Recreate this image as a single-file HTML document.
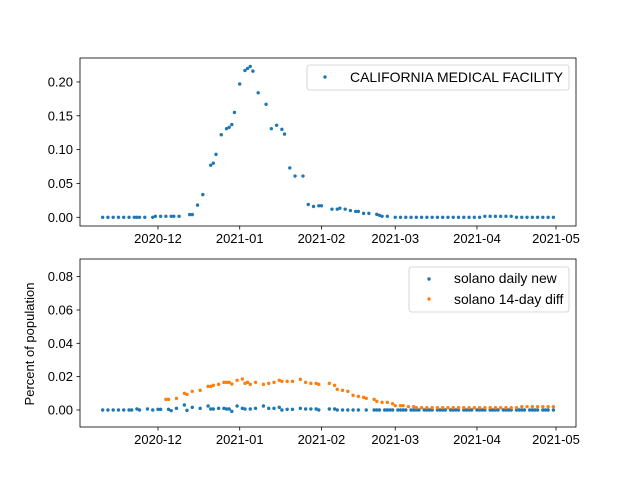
<!DOCTYPE html>
<html><head><meta charset="utf-8">
<style>
body{margin:0;background:#fff;}
svg{display:block;font-family:"Liberation Sans",Arial,sans-serif;}
</style></head>
<body>
<svg id="chart" width="640" height="480" xmlns="http://www.w3.org/2000/svg">
<rect width="640" height="480" fill="#fff"/>
</svg>
<script>
// Days are offsets from 2020-12-01
const xTickLabels = ["2020-12","2021-01","2021-02","2021-03","2021-04","2021-05"];
const xTickDays = [0,31,62,90,121,151];
const topTickLabels = ["0.00","0.05","0.10","0.15","0.20"];
const topTickValues = [0,0.05,0.10,0.15,0.20];
const botTickLabels = ["0.00","0.02","0.04","0.06","0.08"];
const botTickValues = [0,0.02,0.04,0.06,0.08];

const facilityDays = [-21,-19,-17,-15,-13,-11,-9,-8,-7,-5,-2,-1,1,3,5,6,8,12,13,15,17,20,21,22,24,26,27,28,29,31,33,34,35,36,38,41,43,45,47,48,50,52,55,57,59,61,62,66,68,69,71,73,75,76,78,80,83,84,85,87,90,92,94,96,98,100,102,104,106,108,110,112,114,116,118,120,122,124,126,128,130,132,134,136,138,140,142,144,146,148,150];
const facilityVals = [0,0,0,0,0,0,0,0,0,0,0,0.0015,0.0015,0.0015,0.0015,0.0015,0.0015,0.004,0.004,0.018,0.0335,0.077,0.080,0.093,0.122,0.131,0.133,0.137,0.155,0.197,0.217,0.220,0.223,0.216,0.184,0.167,0.131,0.136,0.130,0.123,0.073,0.061,0.061,0.019,0.016,0.017,0.017,0.012,0.012,0.0135,0.012,0.010,0.0087,0.0087,0.0058,0.0058,0.0044,0.003,0.0015,0.0015,0,0,0,0,0,0,0,0,0,0,0,0,0,0,0,0,0,0.0015,0.0015,0.0015,0.0015,0.0015,0.0015,0,0,0,0,0,0,0,0];

const dailyDays = [-21,-19,-17,-15,-13,-11,-10,-8,-7,-4,-2,0,1,4,5,7,10,11,13,16,19,20,21,23,25,26,27,28,30,32,33,35,37,40,42,44,46,47,49,51,54,56,58,60,61,65,67,68,70,72,74,76,79,82,83,84,86,87,88,89,91,92,93,94,96,97,98,99,101,102,103,104,106,107,108,109,111,112,113,114,116,117,118,119,121,122,123,124,126,127,128,129,131,132,133,134,136,137,138,139,141,142,143,144,146,147,148,150];
const dailyVals = [0,0,0,0,0,0,0,0.0006,0,0.0006,0,0.0004,0.0004,0.0004,-0.0004,0.001,0.003,-0.0002,0.0016,0.001,0.0024,0.0006,0.0006,0.001,0.001,0.0006,0.0006,-0.0008,0.0024,0.001,0.0006,0.0006,0.001,0.0024,0.001,0.001,0.0016,0,0.0004,0.0004,0.001,0.0006,0.0006,0.0006,0,0.0006,0.0006,0,0,0,0,0,0,0,0,0,0,0,0,0,0,0,0,0,0,0,0,0,0,0,0,0,0,0,0,0,0,0,0,0,0,0,0,0,0,0,0,0,0,0,0,0,0,0,0,0,0,0,0,0,0,0,0,0,0,0,0,0];

const diffDays = [3,4,7,10,11,13,16,19,20,21,23,25,26,27,28,30,32,33,34,35,37,40,42,44,46,47,49,51,54,56,58,60,61,65,67,68,70,72,74,76,78,79,82,83,85,87,89,90,92,93,95,97,98,100,102,104,106,108,110,112,114,116,118,120,122,124,126,128,130,132,134,136,138,140,142,144,146,148,150];
const diffVals = [0.0064,0.0064,0.007,0.010,0.0094,0.0112,0.0118,0.0142,0.0142,0.0148,0.0154,0.0166,0.0166,0.0166,0.0156,0.0178,0.0186,0.016,0.0166,0.0154,0.0166,0.0154,0.016,0.0166,0.0178,0.0172,0.0172,0.0172,0.0184,0.0166,0.016,0.016,0.0154,0.016,0.0148,0.0124,0.0118,0.0112,0.0088,0.0082,0.0076,0.007,0.0064,0.0052,0.0046,0.0046,0.0038,0.0026,0.0026,0.0026,0.002,0.002,0.0014,0.0014,0.0014,0.0014,0.0014,0.0014,0.0014,0.0014,0.0014,0.0014,0.0014,0.0014,0.0014,0.0014,0.0014,0.0014,0.0014,0.0014,0.0014,0.0014,0.002,0.002,0.002,0.002,0.002,0.002,0.002];

const NS = "http://www.w3.org/2000/svg";
const svg = document.getElementById('chart');
const X0 = 80, X1 = 576;
function xScale(d){ return 158 + d * 2.636; }
const topAx = {y0:58, y1:226, zero:217.3, k:676.7};
const botAx = {y0:259, y1:427, zero:410, k:1667};
function yTop(v){ return topAx.zero - v * topAx.k; }
function yBot(v){ return botAx.zero - v * botAx.k; }

function mk(tag, attrs, parent){
  const el = document.createElementNS(NS, tag);
  for (const k in attrs) el.setAttribute(k, attrs[k]);
  (parent || svg).appendChild(el);
  return el;
}

function axes(ax, yfn, tickVals, tickLabs, prefix){
  const g = mk('g', {});
  
  
  xTickDays.forEach((d, i) => {
    const x = xScale(d);
    const t = mk('line', {x1:x, x2:x, y1:ax.y1, y2:ax.y1+3.5, stroke:'#000', 'stroke-width':0.8}, g);
    
    
    const l = mk('text', {x:x, y:ax.y1+17, 'text-anchor':'middle', 'font-size':'13'}, g);
    l.textContent = xTickLabels[i];
    
    
  });
  tickVals.forEach((v, i) => {
    const y = yfn(v);
    const t = mk('line', {x1:X0-3.5, x2:X0, y1:y, y2:y, stroke:'#000', 'stroke-width':0.8}, g);
    
    
    const l = mk('text', {x:X0-7, y:y+4.5, 'text-anchor':'end', 'font-size':'13'}, g);
    l.textContent = tickLabs[i];
    
    
  });
  const f = mk('rect', {x:X0, y:ax.y0, width:X1-X0, height:ax.y1-ax.y0, fill:'none', stroke:'#000', 'stroke-width':0.8}, g);
  
  
}

function series(days, vals, yfn, color, name){
  const g = mk('g', {fill:color});
  
  
  days.forEach((d, i) => {
    const c = mk('circle', {cx:xScale(d), cy:yfn(vals[i]), r:1.7}, g);
    
    
  });
}

axes(topAx, yTop, topTickValues, topTickLabels, 'top');
axes(botAx, yBot, botTickValues, botTickLabels, 'bottom');
series(facilityDays, facilityVals, yTop, '#1f77b4', 'facility-series');
series(dailyDays, dailyVals, yBot, '#1f77b4', 'daily-new-series');
series(diffDays, diffVals, yBot, '#ff7f0e', 'diff-series');

const yt = mk('text', {x:0, y:0, 'font-size':'13', 'text-anchor':'middle', transform:'translate(34,344) rotate(-90)'});
yt.textContent = 'Percent of population';



const lg1 = mk('g', {});


mk('rect', {x:307, y:65, width:262, height:25, rx:2.5, fill:'#fff', 'fill-opacity':0.8, stroke:'#ccc', 'stroke-width':0.8}, lg1);
mk('circle', {cx:325, cy:77, r:1.7, fill:'#1f77b4'}, lg1);
const t1 = mk('text', {x:350, y:82, 'font-size':'13.9', textLength:'213', lengthAdjust:'spacingAndGlyphs'}, lg1);
t1.textContent = 'CALIFORNIA MEDICAL FACILITY';



const lg2 = mk('g', {});


mk('rect', {x:409, y:267, width:160, height:45, rx:2.5, fill:'#fff', 'fill-opacity':0.8, stroke:'#ccc', 'stroke-width':0.8}, lg2);
mk('circle', {cx:429, cy:279, r:1.7, fill:'#1f77b4'}, lg2);
mk('circle', {cx:429, cy:299, r:1.7, fill:'#ff7f0e'}, lg2);
const t2 = mk('text', {x:454, y:283, 'font-size':'13.9'}, lg2);
t2.textContent = 'solano daily new';


const t3 = mk('text', {x:454, y:304, 'font-size':'13.9'}, lg2);
t3.textContent = 'solano 14-day diff';


</script>
</body></html>
